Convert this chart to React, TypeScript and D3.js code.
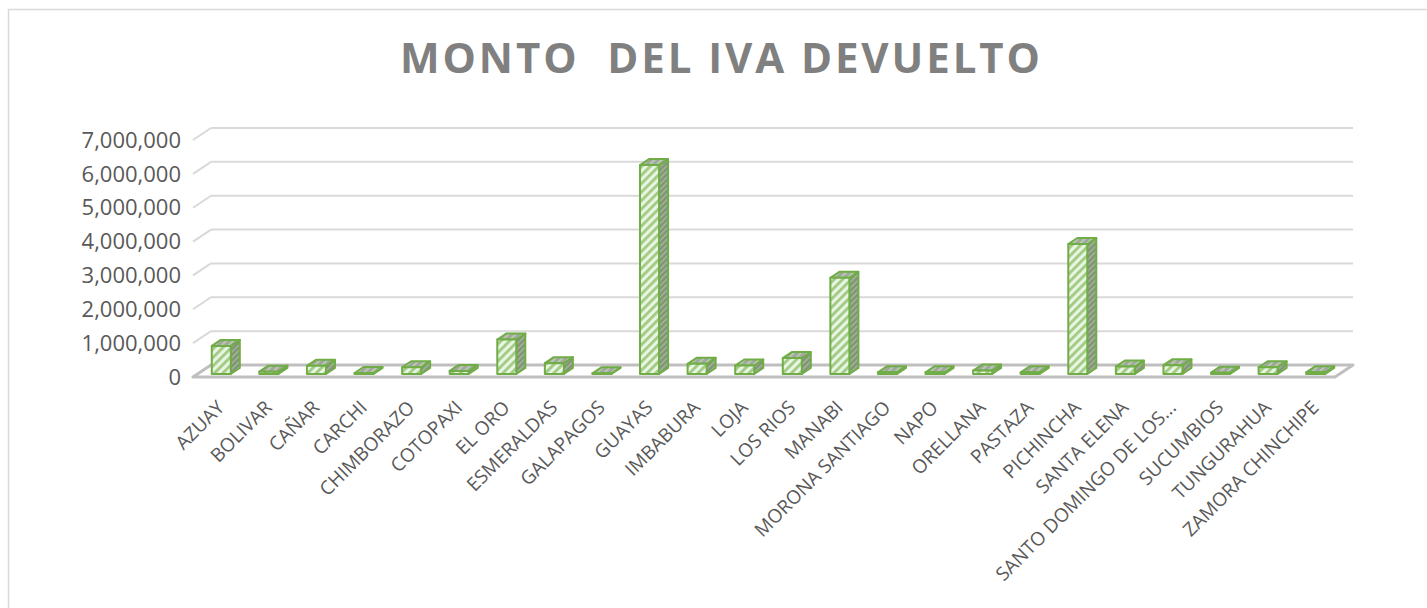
import * as d3 from "d3";

// provincias y monto devuelto
const provincias = [
  "AZUAY", "BOLIVAR", "CAÑAR", "CARCHI", "CHIMBORAZO", "COTOPAXI", "EL ORO",
  "ESMERALDAS", "GALAPAGOS", "GUAYAS", "IMBABURA", "LOJA", "LOS RIOS", "MANABI",
  "MORONA SANTIAGO", "NAPO", "ORELLANA", "PASTAZA", "PICHINCHA", "SANTA ELENA",
  "SANTO DOMINGO DE LOS...", "SUCUMBIOS", "TUNGURAHUA", "ZAMORA CHINCHIPE",
];
const montos = [
  830000, 70000, 240000, 30000, 200000, 90000, 1020000,
  320000, 20000, 6170000, 300000, 250000, 470000, 2840000,
  50000, 50000, 100000, 50000, 3840000, 220000,
  260000, 40000, 200000, 50000,
];
const yTicks = [0, 1000000, 2000000, 3000000, 4000000, 5000000, 6000000, 7000000];
const titulo = "MONTO  DEL IVA DEVUELTO";

const W = 1427;
const H = 608;
// desplazamiento de profundidad (efecto 3D)
const DX = 18;
const DY = -12;
const GREEN = "#70ad47";

export default function App() {
  const x = d3.scaleBand<string>()
    .domain(provincias)
    .range([193, 1335])
    .paddingInner(0.6)
    .paddingOuter(0.3);
  const y = d3.scaleLinear().domain([0, 7000000]).range([377, 140]);
  const fmt = d3.format(",");
  const bw = x.bandwidth();

  const f0 = { dx: DX * 0.25, dy: DY * 0.25 };
  const dd = { dx: DX * 0.5, dy: DY * 0.5 };

  return (
    <div style={{ position: "fixed", left: 0, top: 0, width: W, height: H, background: "#fff" }}>
      <svg width={W} height={H} style={{ display: "block" }}>
        <defs>
          <pattern id="pFront" width="6" height="6" patternUnits="userSpaceOnUse" patternTransform="rotate(45)">
            <rect width="6" height="6" fill="#eaf4e2" />
            <rect width="2.8" height="6" fill="#9fcb82" />
          </pattern>
          <pattern id="pSide" width="4" height="4" patternUnits="userSpaceOnUse" patternTransform="rotate(45)">
            <rect width="4" height="4" fill="#858e80" />
            <rect width="1.6" height="4" fill="#9dbb88" />
          </pattern>
          <pattern id="pTop" width="5" height="5" patternUnits="userSpaceOnUse" patternTransform="rotate(45)">
            <rect width="5" height="5" fill="#a2a6a0" />
            <rect width="1.8" height="5" fill="#b7cfa8" />
          </pattern>
        </defs>

        {/* borde del área del gráfico */}
        <rect x={8.5} y={9.5} width={W + 20} height={H + 20} fill="#fff" stroke="#d9d9d9" strokeWidth={1.5} />

        <text
          x={720}
          y={73}
          textAnchor="middle"
          textLength={640}
          lengthAdjust="spacing"
          style={{ fontFamily: "'Open Sans', sans-serif", fontWeight: 700, fontSize: 42, fill: "#808080", whiteSpace: "pre" }}
        >
          {titulo}
        </text>

        {/* líneas de cuadrícula (pared posterior + pared lateral) */}
        {yTicks.filter((t) => t > 0).map((t) => (
          <g key={t}>
            <line x1={193} y1={y(t)} x2={193 + DX} y2={y(t) + DY} stroke="#d9d9d9" strokeWidth={2} />
            <line x1={193 + DX} y1={y(t) + DY} x2={1335 + DX} y2={y(t) + DY} stroke="#d9d9d9" strokeWidth={2} />
          </g>
        ))}

        {/* piso */}
        <path
          d={`M193,${y(0)} L1335,${y(0)} L${1335 + DX},${y(0) + DY} L${193 + DX},${y(0) + DY} Z`}
          fill="none"
          stroke="#bfbfbf"
          strokeWidth={3}
          strokeLinejoin="round"
        />

        {/* etiquetas eje Y */}
        {yTicks.map((t) => (
          <text
            key={t}
            x={181}
            y={y(t)}
            dy="0.35em"
            textAnchor="end"
            style={{ fontFamily: "'Open Sans', sans-serif", fontSize: 22, fill: "#595959" }}
          >
            {fmt(t)}
          </text>
        ))}

        {/* barras 3D */}
        {provincias.map((p, i) => {
          const x0 = (x(p) as number) + f0.dx;
          const base = y(0) + f0.dy;
          const top = y(montos[i]) + f0.dy;
          const x1 = x0 + bw;
          const side = `M${x1},${top} L${x1 + dd.dx},${top + dd.dy} L${x1 + dd.dx},${base + dd.dy} L${x1},${base} Z`;
          const cap = `M${x0},${top} L${x1},${top} L${x1 + dd.dx},${top + dd.dy} L${x0 + dd.dx},${top + dd.dy} Z`;
          return (
            <g key={p} stroke={GREEN} strokeWidth={2} strokeLinejoin="round">
              <path d={side} fill="url(#pSide)" />
              <path d={cap} fill="url(#pTop)" />
              <rect x={x0} y={top} width={bw} height={base - top} fill="url(#pFront)" />
            </g>
          );
        })}

        {/* etiquetas eje X */}
        {provincias.map((p) => {
          const cx = (x(p) as number) + bw / 2 + 4;
          const cy = 404;
          return (
            <text
              key={p}
              transform={`translate(${cx},${cy}) rotate(-45)`}
              textAnchor="end"
              dy="0.35em"
              style={{ fontFamily: "'Open Sans', sans-serif", fontSize: 19, fill: "#595959" }}
            >
              {p}
            </text>
          );
        })}
      </svg>
    </div>
  );
}
